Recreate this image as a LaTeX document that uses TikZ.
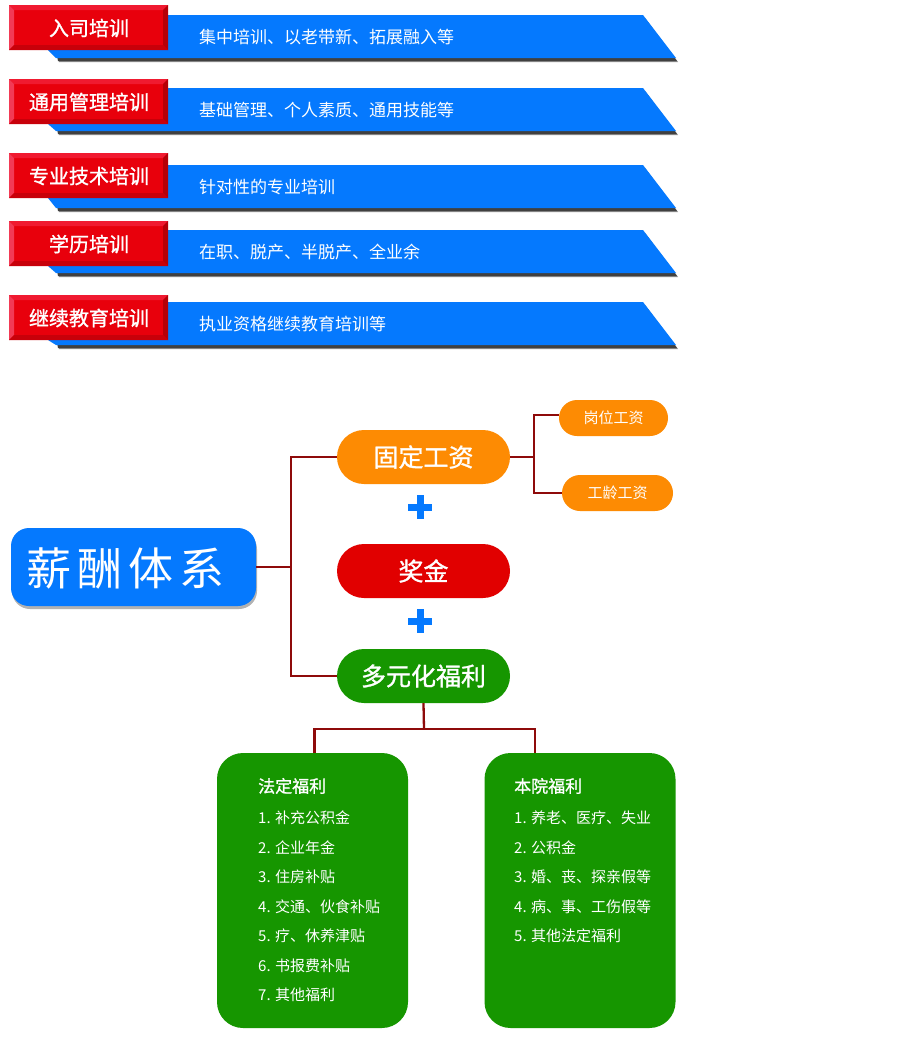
\documentclass[tikz,border=0pt]{standalone}
\usepackage{fontspec}
\setmainfont{Noto Sans CJK SC}
\newfontfamily\semibf{Noto Sans CJK SC}[FakeBold=1.2]
\usetikzlibrary{shadows,calc}
\definecolor{tabred}{HTML}{E8000C}
\definecolor{tablight}{HTML}{F23A55}
\definecolor{tabtop}{HTML}{F01A30}
\definecolor{tabdark}{HTML}{B50008}
\definecolor{tabbot}{HTML}{C8000A}
\definecolor{bannerblue}{HTML}{0579FE}
\definecolor{shadowgray}{HTML}{404040}
\definecolor{linered}{HTML}{8E0A0A}
\definecolor{orng}{HTML}{FD8B03}
\definecolor{bonusred}{HTML}{E10000}
\definecolor{grn}{HTML}{169600}
\begin{document}
\begin{tikzpicture}[x=1pt,y=-1pt,
  redlab/.style={text=white, font=\semibf\fontsize{20}{24}\selectfont, inner sep=0pt},
  bluelab/.style={text=white, font=\fontsize{17}{20}\selectfont, inner sep=0pt, anchor=west},
  conn/.style={draw=linered, line width=2.3pt},
  pill/.style={rounded corners=27pt, minimum width=173pt, minimum height=54pt, text=white, font=\semibf\fontsize{25}{30}\selectfont, inner sep=0pt},
  smallpill/.style={fill=orng, rounded corners=18pt, minimum height=36pt, text=white, font=\fontsize{15}{18}\selectfont, inner sep=0pt},
  listbox/.style={fill=grn, rounded corners=26pt, minimum width=191pt, minimum height=275pt, inner sep=0pt},
  listtitle/.style={text=white, font=\semibf\fontsize{17}{20}\selectfont, inner sep=0pt, anchor=west},
  listitem/.style={text=white, font=\fontsize{15}{18}\selectfont, inner sep=0pt, anchor=west},
  plusbar/.style={fill=bannerblue}
]
\useasboundingbox[fill=white] (0,0) rectangle (924,1050);

% ---------- training banners ----------
\foreach \R/\T/\lab/\desc [count=\i] in {
  5/15/入司培训/集中培训、以老带新、拓展融入等,
  79/88/通用管理培训/基础管理、个人素质、通用技能等,
  153/165/专业技术培训/针对性的专业培训,
  221/230/学历培训/在职、脱产、半脱产、全业余,
  295/302/继续教育培训/执业资格继续教育培训等}
{
  \fill[shadowgray!60] (52,\T+5) -- (646,\T+5) -- (678,\T+47) -- (59,\T+47) -- cycle;
  \fill[shadowgray] (50,\T+3) -- (645,\T+3) -- (677,\T+46) -- (58,\T+46) -- cycle;
  \fill[bannerblue] (48,\T) -- (643,\T) -- (676,\T+43) -- (56,\T+43) -- (48,\R+45) -- cycle;
  % bevelled red tab
  \fill[tabred] (9,\R) rectangle (168,\R+45);
  \fill[tabtop] (9,\R) -- (168,\R) -- (163,\R+5) -- (14,\R+5) -- cycle;
  \fill[tablight] (9,\R) -- (14,\R+5) -- (14,\R+40) -- (9,\R+45) -- cycle;
  \fill[tabdark] (168,\R) -- (168,\R+45) -- (163,\R+40) -- (163,\R+5) -- cycle;
  \fill[tabbot] (9,\R+45) -- (168,\R+45) -- (163,\R+40) -- (14,\R+40) -- cycle;
  \node[redlab] (rt\i) at (89,\R+23) {\lab};
  \node[bluelab] (bt\i) at (199,\T+22) {\desc};
}

% ---------- salary system ----------
\node[fill=bannerblue, rounded corners=18pt, minimum width=245pt, minimum height=78pt,
      drop shadow={shadow xshift=1pt, shadow yshift=-3pt, opacity=0.6}] (xc) at (133.5,567) {};
\node[text=white, font=\fontsize{45}{50}\selectfont, inner sep=0pt, anchor=west] (xct) at (26,568)
  {薪\hspace{6pt}酬\hspace{6pt}体\hspace{6pt}系};

\node[pill, fill=orng] (gd) at (423.5,457) {固定工资};
\node[pill, fill=bonusred] (jj) at (423.5,571) {奖金};
\node[pill, fill=grn] (dy) at (423.5,676) {多元化福利};

\node[smallpill, minimum width=109pt] (gw) at (613.5,418) {岗位工资};
\node[smallpill, minimum width=111pt] (gl) at (617.5,493) {工龄工资};

% plus signs
\fill[plusbar] (408,503.5) rectangle (432,510.5);
\fill[plusbar] (416.5,495) rectangle (423.5,519);
\fill[plusbar] (408,617.5) rectangle (432,624.5);
\fill[plusbar] (416.5,609) rectangle (423.5,633);

% connectors
\coordinate (j1) at (291,567);
\coordinate (j2) at (534,457);
\coordinate (j3) at (424,729);
\draw[conn] (xc.east) -- (j1);
\draw[conn] (gd.west) -| (j1) |- (dy.west);
\draw[conn] (gd.east) -- (j2);
\draw[conn] ([yshift=3pt]gw.west) -| (j2) |- (gl.west);

% welfare boxes
\node[listbox] (fd) at (312.5,890.5) {};
\node[listbox] (by) at (580,890.5) {};
\draw[conn] (dy.south) -- (j3);
\draw[conn] ([xshift=2pt]fd.north) |- (j3) -| ([xshift=51pt]by.north west);

\node[listtitle] (fdt) at (258,786) {法定福利};
\foreach \t [count=\k] in {1. 补充公积金, 2. 企业年金, 3. 住房补贴, 4. 交通、伙食补贴, 5. 疗、休养津贴, 6. 书报费补贴, 7. 其他福利}
  \node[listitem] (fdi\k) at (258,818+29.5*\k-29.5) {\t};

\node[listtitle] (byt) at (514,786) {本院福利};
\foreach \t [count=\k] in {1. 养老、医疗、失业, 2. 公积金, 3. 婚、丧、探亲假等, 4. 病、事、工伤假等, 5. 其他法定福利}
  \node[listitem] (byi\k) at (514,818+29.5*\k-29.5) {\t};
\end{tikzpicture}
\end{document}
